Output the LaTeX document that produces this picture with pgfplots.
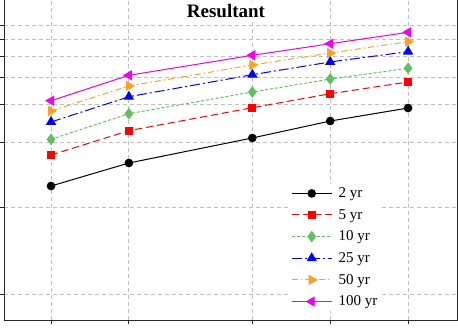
\documentclass[border=0pt]{standalone}
\usepackage{fontspec}
\setmainfont{Liberation Serif}
\usepackage{pgfplots}
\pgfplotsset{compat=1.18}

\definecolor{grn}{RGB}{96,192,96}
\definecolor{org}{RGB}{255,160,32}
\definecolor{mag}{RGB}{240,0,240}

\begin{document}
\begin{tikzpicture}
\useasboundingbox (-4pt,-8pt) rectangle (454pt,320pt);
\clip (-4pt,-8pt) rectangle (454pt,320pt);
\begin{axis}[
  at={(0pt,0pt)}, anchor=south west,
  scale only axis, width=453pt, height=328.5pt,
  xmode=log, ymode=log,
  xmin=0.658, xmax=37.1, ymin=1.5166, ymax=50,
  xtick={1,2,6,12,24}, ytick={2,5,10,15,20,25,30,35},
  xticklabels={}, yticklabels={},
  minor xtick={}, minor ytick={},
  tick align=outside, tick pos=left,
  major tick length=4.5pt,
  grid=major,
  major grid style={gray!50, dash pattern=on 4pt off 3pt, line width=0.8pt},
  axis line style={black!85, line width=0.9pt},
  every tick/.style={black!85, line width=0.9pt},
  every axis plot/.append style={line width=1pt},
  legend cell align=left,
  legend style={at={(0.627,0.414)}, anchor=north west, draw=none, fill=white,
    font=\fontsize{15}{18}\selectfont, row sep=7.2pt, column sep=5pt,
    nodes={inner sep=1.5pt}},
  legend image code/.code={%
    \draw[mark repeat=2,mark phase=2,#1] plot coordinates {(0pt,0pt) (20pt,0pt) (40pt,0pt)};},
]
% 2-year return period
\addplot[black, mark=*, mark size=3.8pt] coordinates
  {(1,6.31) (2,8.06) (6,10.52) (12,12.60) (24,14.47)};
\addlegendentry{2 yr}
% 5-year return period
\addplot[red, dash pattern=on 7pt off 4pt, mark=square*, mark size=3.6pt,
  mark options={solid}] coordinates
  {(1,8.78) (2,11.37) (6,14.52) (12,16.85) (24,19.09)};
\addlegendentry{5 yr}
% 10-year return period
\addplot[grn, dash pattern=on 3pt off 2pt, mark=diamond*, mark size=5pt,
  mark options={solid}] coordinates
  {(1,10.37) (2,13.62) (6,17.16) (12,19.70) (24,22.08)};
\addlegendentry{10 yr}
% 25-year return period
\addplot[blue, dash pattern=on 10pt off 3pt on 2pt off 3pt, mark=triangle*, mark size=5pt,
  mark options={solid}] coordinates
  {(1,12.47) (2,16.32) (6,20.63) (12,23.62) (24,26.36)};
\addlegendentry{25 yr}
% 50-year return period
\addplot[org, dash pattern=on 6pt off 3pt on 1.5pt off 3pt, mark=triangle*, mark size=5pt,
  mark options={solid, rotate=-90}] coordinates
  {(1,14.02) (2,18.29) (6,22.87) (12,25.98) (24,29.31)};
\addlegendentry{50 yr}
% 100-year return period
\addplot[mag, mark=triangle*, mark size=5pt,
  mark options={solid, rotate=90}] coordinates
  {(1,15.64) (2,20.49) (6,25.36) (12,28.68) (24,32.38)};
\addlegendentry{100 yr}
\end{axis}
\node[fill=white, inner sep=2pt, font=\fontsize{19}{22}\selectfont\bfseries] at (222pt,309pt) {Resultant};
\end{tikzpicture}
\end{document}
